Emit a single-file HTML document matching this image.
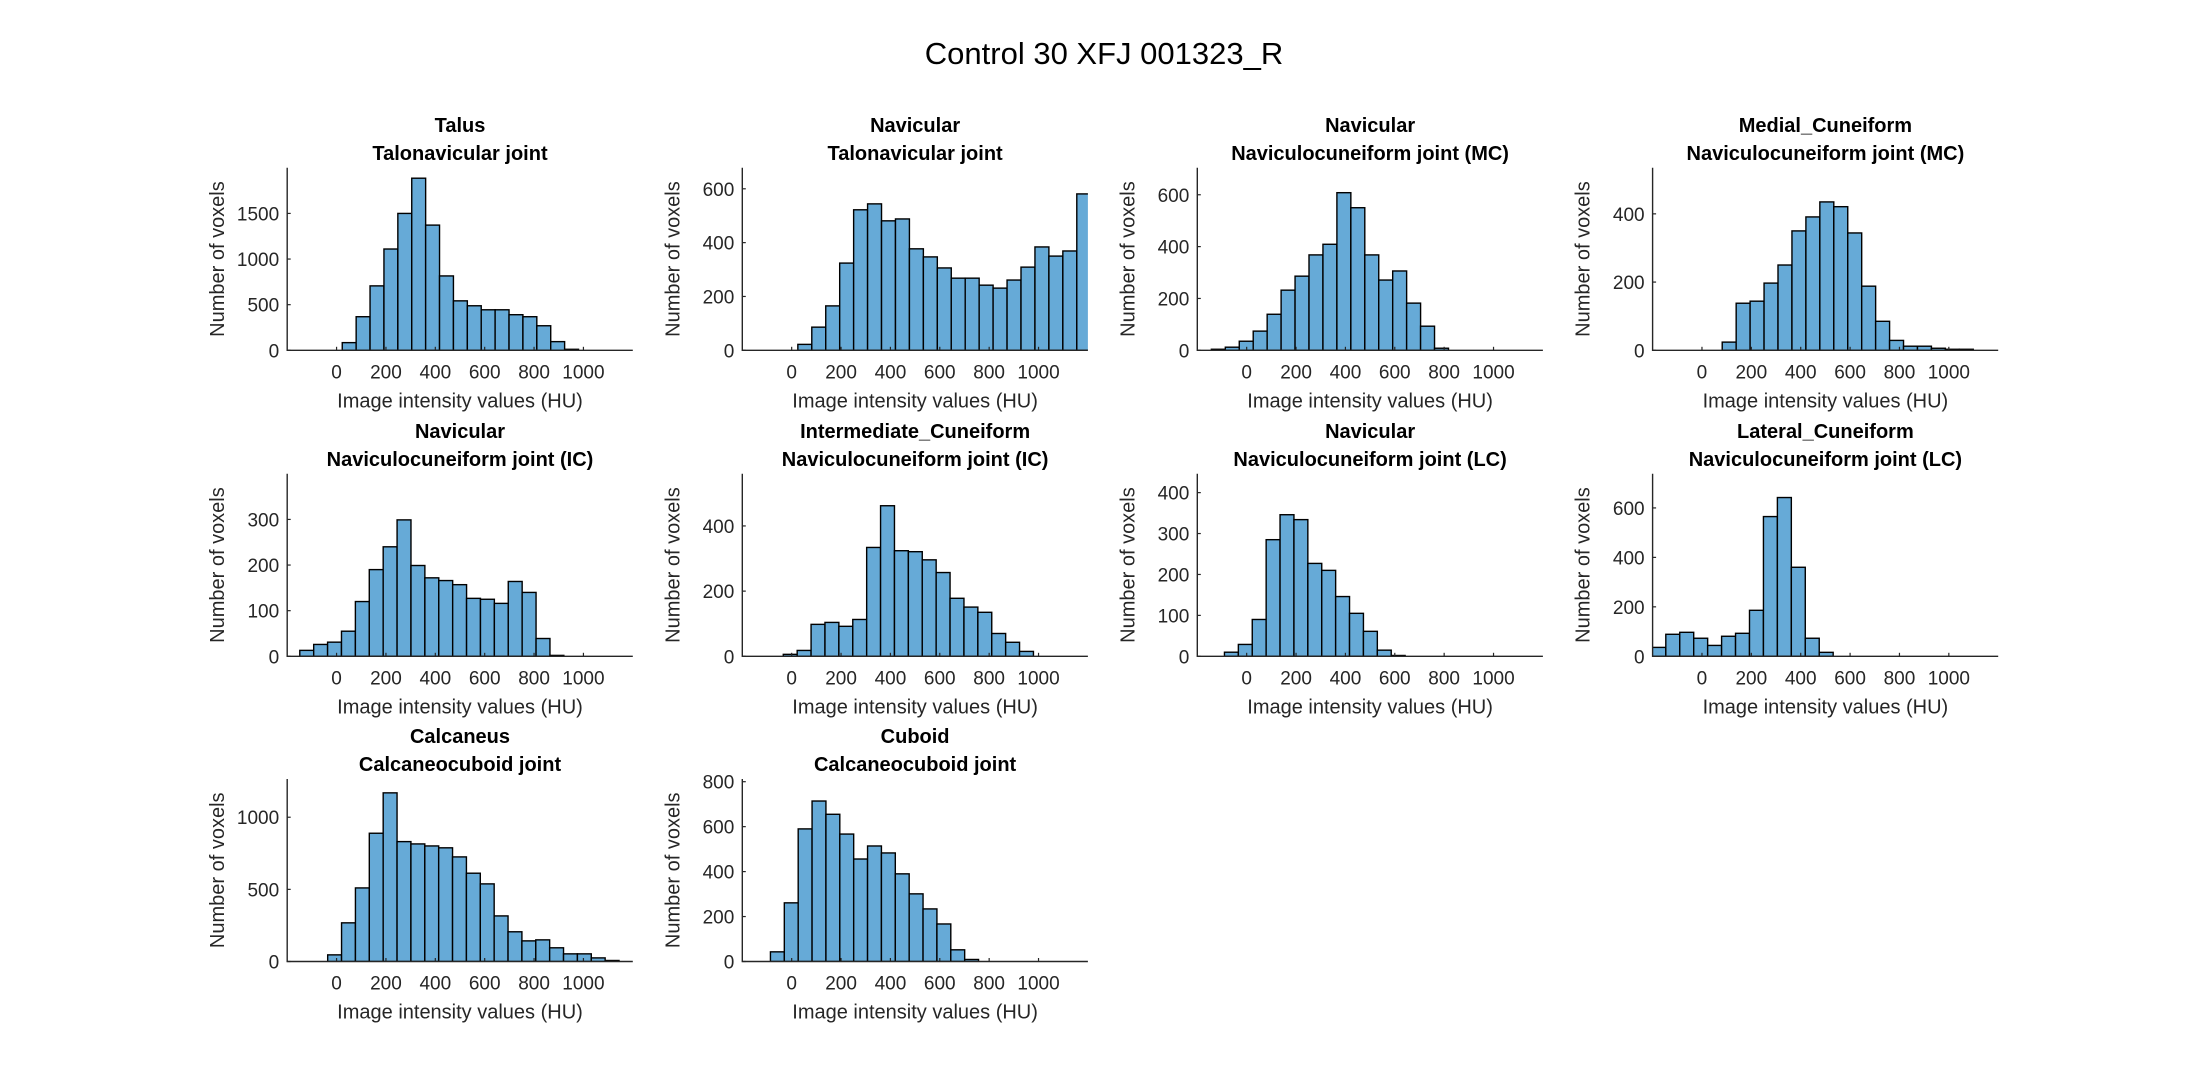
<!DOCTYPE html>
<html><head><meta charset="utf-8"><style>
html,body{margin:0;padding:0;background:#fff;}
svg{display:block;font-family:"Liberation Sans",Arial,sans-serif;}
</style></head><body>
<svg id="fig" width="2208" height="1080" viewBox="0 0 2208 1080">
<text x="1104" y="64" text-anchor="middle" font-size="31" fill="#000">Control 30 XFJ 001323_R</text>
</svg>
<script>
// ---- data (counts per bin, first bin edge, bin width, y limits, y ticks) ----
const titles1 = ["Talus","Navicular","Navicular","Medial_Cuneiform","Navicular","Intermediate_Cuneiform","Navicular","Lateral_Cuneiform","Calcaneus","Cuboid"];
const titles2 = ["Talonavicular joint","Talonavicular joint","Naviculocuneiform joint (MC)","Naviculocuneiform joint (MC)","Naviculocuneiform joint (IC)","Naviculocuneiform joint (IC)","Naviculocuneiform joint (LC)","Naviculocuneiform joint (LC)","Calcaneocuboid joint","Calcaneocuboid joint"];
const countsTalus = [84,368,706,1110,1500,1886,1372,815,542,488,444,444,390,368,269,95,11];
const countsNavTN = [22,86,165,324,522,544,481,488,377,347,306,268,268,242,231,261,309,384,350,369,581];
const countsNavMC = [4,12,35,74,139,232,286,368,409,608,550,368,271,306,182,93,8];
const countsMedCun = [24,138,144,197,250,350,391,435,421,344,188,85,29,12,12,6,3,3];
const countsNavIC = [13,26,31,55,120,190,240,299,199,172,166,157,127,125,116,164,140,39,2];
const countsIntCun = [6,18,98,104,92,113,334,462,324,321,296,257,178,151,135,70,43,15];
const countsNavLC = [10,29,90,285,346,334,227,210,146,105,61,15,2];
const countsLatCun = [36,89,97,73,44,81,93,186,565,642,360,73,16];
const countsCalc = [46,268,510,889,1169,831,815,801,788,725,612,538,316,206,143,150,95,53,53,25,7];
const countsCuboid = [43,261,590,714,655,567,456,514,483,390,301,234,167,52,9];
const firstEdges = [23,25,-143,82,-149,-34,-90,-203,-36,-86];
const binWidths = [56.3,56.5,56.5,56.5,56.3,56.3,56.3,56.5,56.2,56.2];
const yMaxes = [2000,678,704,535,400,560,446,738,1265,812];
const yTicks = [[0,500,1000,1500],[0,200,400,600],[0,200,400,600],[0,200,400],[0,100,200,300],[0,200,400],[0,100,200,300,400],[0,200,400,600],[0,500,1000],[0,200,400,600,800]];
const xTicks = [0,200,400,600,800,1000];
const xLim = [-200,1200];
const allCounts = [countsTalus,countsNavTN,countsNavMC,countsMedCun,countsNavIC,countsIntCun,countsNavLC,countsLatCun,countsCalc,countsCuboid];

const NS = "http://www.w3.org/2000/svg";
const fig = document.getElementById("fig");
const colLeft = [287.2, 742.3, 1197.3, 1652.6];
const rowBottom = [350.3, 656.3, 961.5];
const AW = 345.6, AH = 182.5;
function mk(tag, attrs, parent){ const e=document.createElementNS(NS,tag); for(const k in attrs) e.setAttribute(k,attrs[k]); parent.appendChild(e); return e; }

allCounts.forEach((counts, p) => {
  const c = p % 4, r = Math.floor(p / 4);
  const L = colLeft[c], B = rowBottom[r], T = B - AH, R = L + AW;
  const xs = v => L + (v - xLim[0]) / (xLim[1] - xLim[0]) * AW;
  const ys = v => B - v / yMaxes[p] * AH;
  const g = mk("g", {}, fig);
  
  
  const clipId = "clip" + p;
  const cp = mk("clipPath", {id: clipId}, g);
  mk("rect", {x: L, y: T - 2, width: AW, height: AH + 2}, cp);
  const bars = mk("g", {"clip-path": "url(#" + clipId + ")"}, g);
  counts.forEach((v, i) => {
    const x0 = xs(firstEdges[p] + i * binWidths[p]);
    const x1 = xs(firstEdges[p] + (i + 1) * binWidths[p]);
    const rect = mk("rect", {x: x0, y: ys(v), width: x1 - x0, height: B - ys(v), fill: "rgb(102,170,215)", stroke: "#000", "stroke-width": 1.4}, bars);
    
    
  });
  const ax = mk("path", {d: "M" + L + " " + T + " V" + B + " H" + R, stroke: "#262626", "stroke-width": 1.4, fill: "none"}, g);
  
  
  xTicks.forEach(t => {
    const x = xs(t);
    mk("line", {x1: x, x2: x, y1: B, y2: B - 3.5, stroke: "#262626", "stroke-width": 1.2}, g);
    const tl = mk("text", {x: x, y: B + 28, "text-anchor": "middle", "font-size": 19, fill: "#262626"}, g);
    tl.textContent = t;
    
    
  });
  yTicks[p].forEach(t => {
    const y = ys(t);
    mk("line", {x1: L, x2: L + 3.5, y1: y, y2: y, stroke: "#262626", "stroke-width": 1.2}, g);
    const tl = mk("text", {x: L - 8, y: y + 7, "text-anchor": "end", "font-size": 19, fill: "#262626"}, g);
    tl.textContent = t;
    
    
  });
  const xl = mk("text", {x: L + AW / 2, y: B + 57, "text-anchor": "middle", "font-size": 20, fill: "#262626"}, g);
  xl.textContent = "Image intensity values (HU)";
  
  
  const yl = mk("text", {x: 0, y: 0, "text-anchor": "middle", "font-size": 20, fill: "#262626", transform: "translate(" + (L - 63) + "," + (T + AH / 2) + ") rotate(-90)"}, g);
  yl.textContent = "Number of voxels";
  
  
  const t1 = mk("text", {x: L + AW / 2, y: T - 36, "text-anchor": "middle", "font-size": 20, "font-weight": "bold", fill: "#000"}, g);
  t1.textContent = titles1[p];
  
  
  const t2 = mk("text", {x: L + AW / 2, y: T - 8, "text-anchor": "middle", "font-size": 20, "font-weight": "bold", fill: "#000"}, g);
  t2.textContent = titles2[p];
  
  
});
</script>
</body></html>
